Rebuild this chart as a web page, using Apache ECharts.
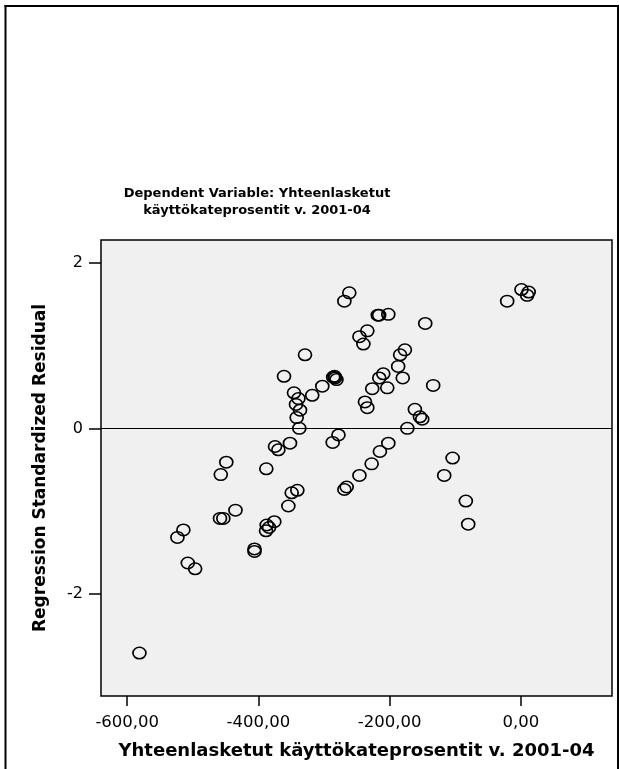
<!DOCTYPE html>
<html>
<head>
<meta charset="utf-8">
<script src="https://cdn.jsdelivr.net/npm/echarts@6/dist/echarts.min.js"></script>
<style>
html,body{margin:0;padding:0;background:#fff;}
#chart{width:619px;height:769px;}
</style>
</head>
<body>
<div id="chart"></div>
<script>
// ---- data ----
const xValues = [
  -261.5, -269, -246, -329, -286, -283, -281, -284, -361, -302.6,
  -318, -345.8, -339, -342.7, -336.6, -341.7, -337.7, -278, -286.8, -351.9,
  -374.7, -369.6, -449, -388, -218, -216, -202, -145.7, -234, -240,
  -176.7, -184, -187, -209.7, -215.8, -180, -226.5, -203.6, -133.6, -237.6,
  -234, -161.5, -153.8, -150.3, -173, -20.8, 1, 12, 9.6, -202,
  -214.8, -104, -227.4, -457.4, -340.7, -349.3, -354.4, -265.5, -269, -246,
  -435, -458.6, -453.5, -375.8, -387.4, -383.8, -388.4, -514.4, -523.5, -406,
  -406, -507.7, -496.5, -581.4, -116.8, -83.8, -80.2
];
const yValues = [
  1.64, 1.54, 1.11, 0.89, 0.62, 0.61, 0.59, 0.63, 0.63, 0.51,
  0.40, 0.43, 0.36, 0.29, 0.22, 0.13, 0.00, -0.08, -0.17, -0.18,
  -0.22, -0.26, -0.41, -0.49, 1.37, 1.37, 1.38, 1.27, 1.18, 1.02,
  0.95, 0.89, 0.75, 0.66, 0.61, 0.61, 0.48, 0.49, 0.52, 0.32,
  0.25, 0.23, 0.14, 0.11, 0.00, 1.54, 1.68, 1.65, 1.61, -0.18,
  -0.28, -0.36, -0.43, -0.56, -0.75, -0.78, -0.94, -0.71, -0.74, -0.57,
  -0.99, -1.09, -1.09, -1.13, -1.17, -1.20, -1.24, -1.23, -1.32, -1.46,
  -1.49, -1.63, -1.70, -2.72, -0.57, -0.88, -1.16
];
const xTickValues = [-600, -400, -200, 0];
const yTickValues = [-2, 0, 2];
const referenceLineY = 0;
const titleText = 'Dependent Variable: Yhteenlasketut\nkäyttökateprosentit v. 2001-04';
const xAxisTitle = 'Yhteenlasketut käyttökateprosentit v. 2001-04';
const yAxisTitle = 'Regression Standardized Residual';

const points = xValues.map((x, i) => [x, yValues[i]]);
const FONT = 'DejaVu Sans';

const chart = echarts.init(document.getElementById('chart'), null, {renderer: 'canvas'});
chart.setOption({
  animation: false,
  backgroundColor: '#ffffff',
  title: {
    text: titleText,
    left: 252,
    top: 180,
    textAlign: 'center',
    textStyle: {fontFamily: FONT, fontSize: 13, fontWeight: 'bold', color: '#000', lineHeight: 17}
  },
  graphic: [
    {type: 'line', shape: {x1: 5.5, y1: 5, x2: 5.5, y2: 769}, style: {stroke: '#000', lineWidth: 2}, silent: true},
    {type: 'line', shape: {x1: 4.5, y1: 6, x2: 619, y2: 6}, style: {stroke: '#000', lineWidth: 2}, silent: true},
    {type: 'line', shape: {x1: 618, y1: 5, x2: 618, y2: 769}, style: {stroke: '#000', lineWidth: 2}, silent: true}
  ],
  grid: {
    left: 101, top: 240, width: 511, height: 456,
    show: true, backgroundColor: '#f0f0f0', borderColor: '#000', borderWidth: 1.5,
    containLabel: false
  },
  xAxis: {
    type: 'value', min: -640, max: 139,
    axisLine: {show: false, onZero: false},
    splitLine: {show: false},
    axisTick: {show: true, customValues: xTickValues, length: 10, lineStyle: {color: '#000', width: 1.5}},
    axisLabel: {
      customValues: xTickValues, margin: 18, color: '#000', fontFamily: FONT, fontSize: 16.5,
      formatter: v => v.toFixed(2).replace('.', ',')
    },
    name: xAxisTitle, nameLocation: 'middle', nameGap: 46,
    nameTextStyle: {fontFamily: FONT, fontSize: 18, fontWeight: 'bold', color: '#000'}
  },
  yAxis: {
    type: 'value', min: -3.24, max: 2.28,
    axisLine: {show: false, onZero: false},
    splitLine: {show: false},
    axisTick: {show: true, customValues: yTickValues, length: 12, lineStyle: {color: '#000', width: 1.5}},
    axisLabel: {
      customValues: yTickValues, margin: 18, color: '#000', fontFamily: FONT, fontSize: 16,
      formatter: v => String(v)
    },
    name: yAxisTitle, nameLocation: 'middle', nameGap: 52,
    nameTextStyle: {fontFamily: FONT, fontSize: 17, fontWeight: 'bold', color: '#000'}
  },
  series: [{
    type: 'scatter',
    data: points,
    symbol: 'circle',
    symbolSize: [13, 11.5],
    itemStyle: {color: 'rgba(0,0,0,0)', borderColor: '#000', borderWidth: 1.6, opacity: 1},
    emphasis: {disabled: true},
    markLine: {
      silent: true,
      symbol: ['none', 'none'],
      label: {show: false},
      lineStyle: {color: '#000', width: 1.2, type: 'solid'},
      data: [{yAxis: referenceLineY}]
    }
  }]
});
</script>
</body>
</html>
